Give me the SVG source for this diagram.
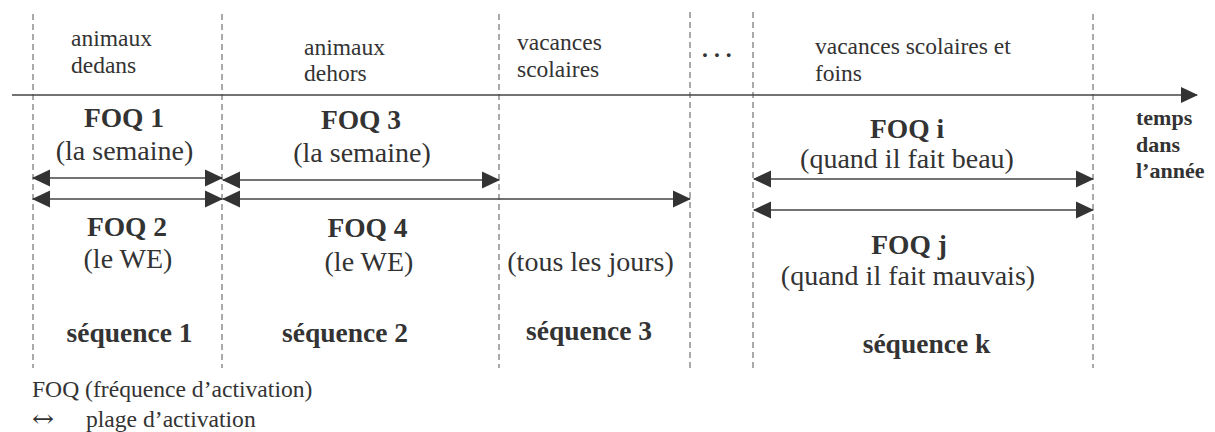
<svg xmlns="http://www.w3.org/2000/svg" width="1215" height="432" viewBox="0 0 1215 432">
<style>
text { font-family: "Liberation Serif", "Times New Roman", "DejaVu Serif", serif; fill: #333; }
.top { font-size: 23.5px; }
.reg { font-size: 28px; text-anchor: middle; }
.bold { font-size: 27.5px; font-weight: bold; text-anchor: middle; }
.tm { font-size: 22px; font-weight: bold; }
.leg { font-size: 23.6px; }
.sym { font-size: 24px; font-family: "DejaVu Serif", "Liberation Serif", serif; }
.dash { stroke: #555; stroke-width: 1; stroke-dasharray: 6 4; fill: none; }
.conn { stroke: #444; stroke-width: 1.5; fill: none; }
.dbl { marker-start: url(#ah); marker-end: url(#ah); }
</style>
<defs>
<marker id="ah" markerUnits="userSpaceOnUse" markerWidth="18" markerHeight="18" viewBox="0 0 18 18" refX="17" refY="9" orient="auto-start-reverse">
<path d="M0,0.5 L18,9 L0,17.5 z" fill="#333"/>
</marker>
<marker id="axh" markerUnits="userSpaceOnUse" markerWidth="17" markerHeight="16" viewBox="0 0 17 16" refX="16" refY="8" orient="auto">
<path d="M0,0 L17,8 L0,16 z" fill="#333"/>
</marker>
</defs>
<g id="grid">
<line class="dash" x1="33" y1="14" x2="33" y2="368"/>
<line class="dash" x1="222" y1="14" x2="222" y2="368"/>
<line class="dash" x1="499" y1="14" x2="499" y2="368"/>
<line class="dash" x1="690" y1="12" x2="690" y2="368"/>
<line class="dash" x1="753" y1="12" x2="753" y2="368"/>
<line class="dash" x1="1093" y1="14" x2="1093" y2="368"/>
</g>
<g id="connectors">
<line id="axis" class="conn" x1="12" y1="95" x2="1197" y2="95" marker-end="url(#axh)"/>
<line id="r-foq1" class="conn dbl" x1="33" y1="178" x2="222" y2="178"/>
<line id="r-foq2" class="conn dbl" x1="33" y1="199" x2="222" y2="199"/>
<line id="r-foq3" class="conn dbl" x1="223" y1="180" x2="499" y2="180"/>
<line id="r-foq4" class="conn dbl" x1="223" y1="199" x2="690" y2="199"/>
<line id="r-foqi" class="conn dbl" x1="754" y1="179" x2="1093" y2="179"/>
<line id="r-foqj" class="conn dbl" x1="754" y1="210" x2="1093" y2="210"/>
</g>
<g id="period-1">
<text class="top" x="71" y="46">animaux</text>
<text class="top" x="71" y="73">dedans</text>
</g>
<g id="period-2">
<text class="top" x="304" y="55">animaux</text>
<text class="top" x="304" y="81">dehors</text>
</g>
<g id="period-3">
<text class="top" x="517" y="50">vacances</text>
<text class="top" x="517" y="77">scolaires</text>
</g>
<g id="period-dots">
<text class="top" x="702" y="57" letter-spacing="6" font-weight="bold">...</text>
</g>
<g id="period-k">
<text class="top" x="815" y="54">vacances scolaires et</text>
<text class="top" x="815" y="81">foins</text>
</g>
<g id="foq1">
<text class="bold" x="124" y="127">FOQ 1</text>
<text class="reg" x="124.5" y="160">(la semaine)</text>
</g>
<g id="foq2">
<text class="bold" x="127" y="236">FOQ 2</text>
<text class="reg" x="128" y="268">(le WE)</text>
</g>
<g id="foq3">
<text class="bold" x="361" y="129">FOQ 3</text>
<text class="reg" x="362" y="162">(la semaine)</text>
</g>
<g id="foq4">
<text class="bold" x="367.5" y="237">FOQ 4</text>
<text class="reg" x="369" y="271">(le WE)</text>
</g>
<g id="foq-tous">
<text class="reg" x="590.5" y="271">(tous les jours)</text>
</g>
<g id="foqi">
<text class="bold" x="907" y="138">FOQ i</text>
<text class="reg" x="907" y="168">(quand il fait beau)</text>
</g>
<g id="foqj">
<text class="bold" x="909" y="254">FOQ j</text>
<text class="reg" x="908" y="285">(quand il fait mauvais)</text>
</g>
<g id="seq1"><text class="bold" x="129.5" y="342">séquence 1</text></g>
<g id="seq2"><text class="bold" x="345" y="342">séquence 2</text></g>
<g id="seq3"><text class="bold" x="589" y="340">séquence 3</text></g>
<g id="seqk"><text class="bold" x="926.5" y="353">séquence k</text></g>
<g id="time-label">
<text class="tm" x="1136" y="125">temps</text>
<text class="tm" x="1136" y="152">dans</text>
<text class="tm" x="1136" y="178">l’année</text>
</g>
<g id="legend">
<text class="leg" x="32" y="397">FOQ (fréquence d’activation)</text>
<text class="sym" x="32" y="427" textLength="22" lengthAdjust="spacingAndGlyphs">↔</text>
<text class="leg" x="86" y="427">plage d’activation</text>
</g>
</svg>
